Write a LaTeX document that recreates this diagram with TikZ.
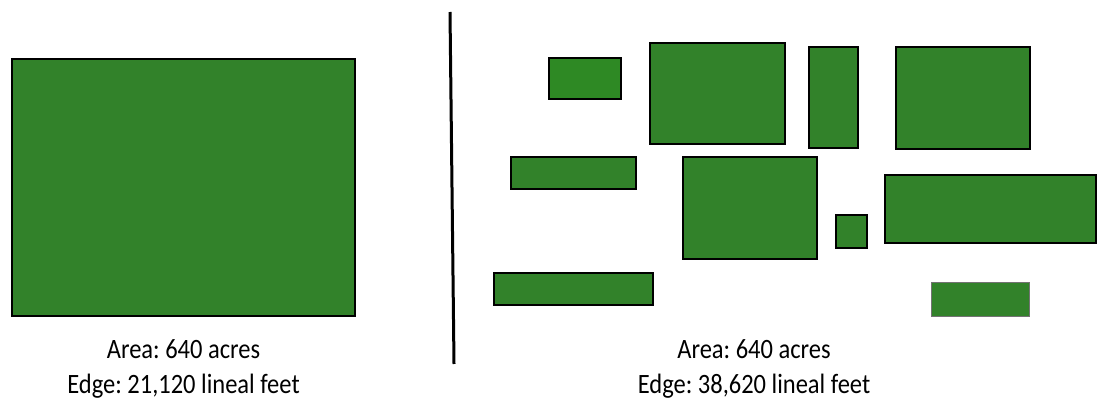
\documentclass[tikz,border=0pt]{standalone}
\usepackage{fontspec}
\setmainfont{Carlito}
\frenchspacing
\definecolor{field}{RGB}{50,130,42}
\definecolor{fieldlight}{RGB}{46,137,36}
\tikzset{
  patch/.style={fill=field,draw=black,line width=1.8pt},
  caption/.style={font=\fontsize{28}{35}\selectfont,anchor=base,inner sep=0pt,
    xscale=0.875,transform shape}
}

\begin{document}
\begin{tikzpicture}[x=1pt,y=-1pt]
  \useasboundingbox (0,0) rectangle (1097,398);

  % one block
  \draw[patch] (12,59) rectangle (355,316);
  \node[caption] (areaL) at (183.5,358) {Area: 640 acres};
  \node[caption] (edgeL) at ([yshift=-35pt]areaL.base) {Edge: 21,120 lineal feet};

  % divider
  \coordinate (top) at (450,12);
  \coordinate (bot) at (454,364);
  \draw[line width=3pt] (top) -- (bot);

  % fragmented blocks
  \draw[patch,fill=fieldlight] (549,58) rectangle (621,99);
  \foreach \xa/\ya/\xb/\yb in {650/43/785/144, 809/47/858/148, 896/47/1030/149,
      511/157/636/189, 683/157/817/259, 836/215/867/248, 885/175/1096/243,
      494/273/653/305}
    \draw[patch] (\xa,\ya) rectangle (\xb,\yb);
  \draw[patch,draw=black!55,line width=1pt] (931,282) rectangle (1029,316);

  \node[caption] (areaR) at (754,358) {Area: 640 acres};
  \node[caption] (edgeR) at ([yshift=-35pt]areaR.base) {Edge: 38,620 lineal feet};
\end{tikzpicture}
\end{document}
